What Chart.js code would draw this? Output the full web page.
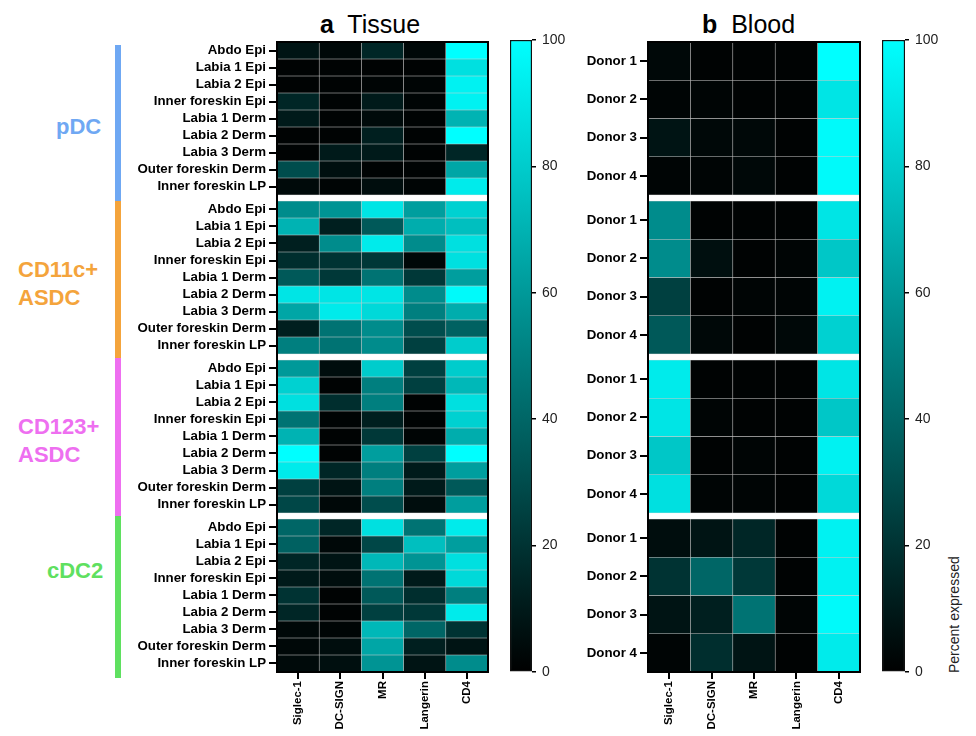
<!DOCTYPE html>
<html>
<head>
<meta charset="utf-8">
<script src="https://cdn.jsdelivr.net/npm/chart.js@4.4.1/dist/chart.umd.min.js"></script>
<style>
  html, body { margin:0; padding:0; background:#fff; }
  body { width:976px; height:736px; position:relative; overflow:hidden; font-family:"Liberation Sans", Arial, Helvetica, sans-serif; }
  canvas { position:absolute; top:0; }
  .t { position:absolute; white-space:nowrap; color:#000; }
  .grp { position:absolute; font-weight:bold; font-size:22px; line-height:28px; white-space:nowrap; }
  .bar { position:absolute; width:6px; left:115px; }
</style>
</head>
<body>
<div class="t" style="left:320px; top:9px; font-size:25px; line-height:30px;"><b>a</b>&nbsp; Tissue</div>
<div class="t" style="left:702px; top:9px; font-size:25px; line-height:30px;"><b>b</b>&nbsp; Blood</div>

<div class="bar" style="top:45px; height:156px; background:#6fa8f3;"></div>
<div class="bar" style="top:201px; height:157px; background:#f4a43c;"></div>
<div class="bar" style="top:358px; height:158px; background:#ee6ff0;"></div>
<div class="bar" style="top:516px; height:162px; background:#5fe060;"></div>

<div class="grp" style="left:56px; top:113px; color:#6fa8f3;">pDC</div>
<div class="grp" style="left:18px; top:256px; color:#f4a43c;">CD11c+<br>ASDC</div>
<div class="grp" style="left:18px; top:413px; color:#ee6ff0;">CD123+<br>ASDC</div>
<div class="grp" style="left:47px; top:557px; color:#5fe060;">cDC2</div>

<div class="t" style="left:946px; top:673px; font-size:14px; line-height:16px; transform-origin:0 0; transform:rotate(-90deg); color:#222;">Percent expressed</div>

<canvas id="tissue" width="370" height="736" style="left:130px; width:370px; height:736px;"></canvas>
<canvas id="cbar1" width="70" height="736" style="left:505px; width:70px; height:736px;"></canvas>
<canvas id="blood" width="295" height="736" style="left:575px; width:295px; height:736px;"></canvas>
<canvas id="cbar2" width="80" height="736" style="left:877px; width:80px; height:736px;"></canvas>

<script>
// ---------------- DATA ----------------
const markers = ['Siglec-1', 'DC-SIGN', 'MR', 'Langerin', 'CD4'];
const groupNames = ['pDC', 'CD11c+ ASDC', 'CD123+ ASDC', 'cDC2'];
const tissueRows = ['Abdo Epi', 'Labia 1 Epi', 'Labia 2 Epi', 'Inner foreskin Epi', 'Labia 1 Derm',
                    'Labia 2 Derm', 'Labia 3 Derm', 'Outer foreskin Derm', 'Inner foreskin LP'];
const bloodRows = ['Donor 1', 'Donor 2', 'Donor 3', 'Donor 4'];
const colorbarTicks = [0, 20, 40, 60, 80, 100];

// Tissue: percent expressed, rows x [Siglec-1, DC-SIGN, MR, Langerin, CD4]
const tissue_pDC = [
  [8, 3, 15, 3, 100],
  [1, 1, 1, 1, 88],
  [1, 1, 2, 2, 95],
  [15, 1, 10, 2, 95],
  [10, 1, 4, 1, 70],
  [1, 1, 12, 1, 100],
  [1, 10, 10, 1, 15],
  [30, 6, 1, 1, 65],
  [4, 2, 5, 2, 92]
];
const tissue_CD11c = [
  [55, 58, 90, 62, 82],
  [70, 12, 35, 68, 75],
  [12, 55, 92, 55, 88],
  [18, 20, 22, 3, 88],
  [35, 22, 45, 22, 62],
  [90, 90, 90, 55, 98],
  [65, 92, 85, 50, 68],
  [12, 45, 55, 30, 38],
  [50, 45, 55, 25, 80]
];
const tissue_CD123 = [
  [60, 5, 80, 25, 80],
  [82, 1, 50, 25, 72],
  [88, 18, 50, 1, 88],
  [45, 1, 12, 1, 82],
  [70, 1, 22, 2, 68],
  [100, 1, 62, 25, 100],
  [92, 15, 50, 10, 62],
  [25, 8, 50, 10, 35],
  [28, 3, 30, 5, 62]
];
const tissue_cDC2 = [
  [40, 15, 88, 45, 92],
  [38, 3, 28, 75, 62],
  [15, 8, 72, 58, 88],
  [10, 5, 45, 10, 85],
  [20, 1, 35, 18, 50],
  [15, 1, 25, 22, 92],
  [3, 2, 72, 40, 20],
  [3, 5, 65, 12, 8],
  [4, 6, 58, 8, 55]
];

// Blood
const blood_pDC = [
  [3, 1, 1, 1, 100],
  [2, 2, 1, 1, 90],
  [8, 3, 3, 1, 98],
  [2, 2, 3, 1, 98]
];
const blood_CD11c = [
  [55, 1, 1, 1, 90],
  [55, 6, 1, 2, 78],
  [25, 1, 2, 2, 95],
  [35, 3, 1, 3, 82]
];
const blood_CD123 = [
  [92, 1, 1, 1, 90],
  [90, 2, 1, 1, 78],
  [78, 1, 2, 1, 95],
  [88, 2, 2, 1, 85]
];
const blood_cDC2 = [
  [5, 8, 15, 1, 95],
  [20, 40, 22, 1, 95],
  [8, 12, 45, 2, 98],
  [2, 18, 8, 1, 92]
];

// ---------------- HELPERS ----------------
function valueColor(v) {
  const c = Math.round(2.55 * Math.max(0, Math.min(100, v)));
  return 'rgb(0,' + c + ',' + c + ')';
}

const framePlugin = {
  id: 'frame',
  afterDatasetsDraw(chart, args, opts) {
    if (!opts || !opts.on) return;
    const a = chart.chartArea, ctx = chart.ctx;
    ctx.save();
    ctx.strokeStyle = '#000';
    ctx.lineWidth = 2;
    ctx.strokeRect(a.left, a.top, a.right - a.left, a.bottom - a.top);
    ctx.restore();
  }
};

function makeHeatmap(id, rowLabels, groupsData, gap, yWidth, padRight) {
  const n = rowLabels.length;
  const total = groupsData.length * n + (groupsData.length - 1) * gap;
  const datasets = [];
  const centers = [];
  const flatLabels = [];
  groupsData.forEach((g, k) => {
    g.forEach((vals, r) => {
      const y0 = k * (n + gap) + r;
      centers.push(y0 + 0.5);
      flatLabels.push(rowLabels[r]);
      datasets.push({
        label: groupNames[k] + ' ' + rowLabels[r],
        data: vals.map(() => [y0, y0 + 1]),
        backgroundColor: vals.map(valueColor),
        borderColor: 'rgba(120,120,120,0.3)',
        borderWidth: 0.6,
        borderSkipped: false,
        grouped: false,
        barPercentage: 1,
        categoryPercentage: 1
      });
    });
  });
  return new Chart(document.getElementById(id), {
    type: 'bar',
    data: { labels: markers, datasets },
    plugins: [framePlugin],
    options: {
      responsive: false,
      animation: false,
      devicePixelRatio: 1,
      layout: { padding: { top: 42, right: padRight, bottom: 0, left: 0 } },
      plugins: { legend: { display: false }, tooltip: { enabled: false }, frame: { on: true } },
      scales: {
        x: {
          type: 'category',
          offset: true,
          ticks: { minRotation: 90, maxRotation: 90, color: '#000', padding: 2,
                   font: { family: 'Liberation Sans', size: 11.5, weight: 'bold' } },
          grid: { offset: false, drawOnChartArea: false, tickLength: 7, color: '#000', lineWidth: 2 },
          border: { display: false },
          afterFit: s => { s.height = 64; }
        },
        y: {
          type: 'linear',
          reverse: true,
          min: 0,
          max: total,
          afterBuildTicks: s => { s.ticks = centers.map(v => ({ value: v })); },
          ticks: { autoSkip: false, color: '#000', padding: 3,
                   font: { family: 'Liberation Sans', size: 13.3, weight: 'bold' },
                   callback: (v, i) => flatLabels[i] },
          grid: { drawOnChartArea: false, tickLength: 8, color: '#000', lineWidth: 2 },
          border: { display: false },
          afterFit: s => { s.width = yWidth; }
        }
      }
    }
  });
}

function makeColorbar(id, padLeft, yWidth) {
  return new Chart(document.getElementById(id), {
    type: 'bar',
    data: {
      labels: ['scale'],
      datasets: [{
        data: [[colorbarTicks[0], colorbarTicks[colorbarTicks.length - 1]]],
        backgroundColor: (ctx) => {
          const a = ctx.chart.chartArea;
          if (!a) return '#00aaaa';
          const g = ctx.chart.ctx.createLinearGradient(0, a.bottom, 0, a.top);
          g.addColorStop(0, valueColor(0));
          g.addColorStop(1, valueColor(100));
          return g;
        },
        borderColor: '#111',
        borderWidth: 1.5,
        borderSkipped: false,
        barPercentage: 1,
        categoryPercentage: 1
      }]
    },
    options: {
      responsive: false,
      animation: false,
      devicePixelRatio: 1,
      layout: { padding: { top: 40, bottom: 64, left: padLeft, right: 0 } },
      plugins: { legend: { display: false }, tooltip: { enabled: false } },
      scales: {
        x: { display: false },
        y: {
          position: 'right',
          min: 0, max: 100,
          afterBuildTicks: s => { s.ticks = colorbarTicks.map(v => ({ value: v })); },
          ticks: { color: '#222', padding: 6, font: { family: 'Liberation Sans', size: 14 } },
          grid: { drawOnChartArea: false, tickLength: 4, color: '#000', lineWidth: 1.5 },
          border: { display: false },
          afterFit: s => { s.width = yWidth; }
        }
      }
    }
  });
}

makeHeatmap('tissue', tissueRows, [tissue_pDC, tissue_CD11c, tissue_CD123, tissue_cDC2], 0.35, 147, 12);
makeHeatmap('blood', bloodRows, [blood_pDC, blood_CD11c, blood_CD123, blood_cDC2], 0.157, 73, 10);
makeColorbar('cbar1', 5, 43);
makeColorbar('cbar2', 5, 52);
</script>
</body>
</html>
